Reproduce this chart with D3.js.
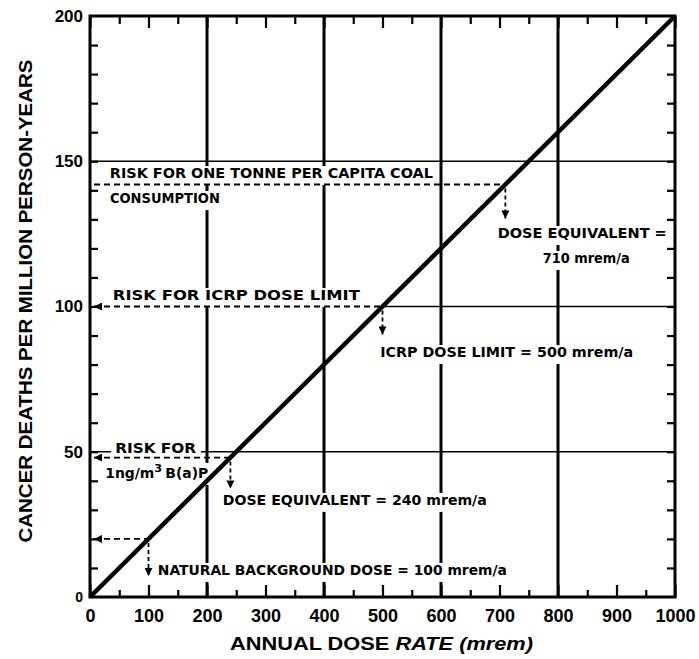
<!DOCTYPE html>
<html>
<head>
<meta charset="utf-8">
<script src="https://cdn.jsdelivr.net/npm/d3@7"></script>
<style>
  body { margin: 0; background: #fff; }
  svg { display: block; }
</style>
</head>
<body>
<div id="chart"></div>
<script>
// Values.
var xTicks = [0, 100, 200, 300, 400, 500, 600, 700, 800, 900, 1000];
var yTicks = [0, 50, 100, 150, 200];
var gridDose = [200, 400, 600, 800];
var gridRisk = [50, 100, 150];
var doseLine = [[0, 0], [1000, 200]];   // mrem/a, deaths per million person-years
var riskDose = [710, 500, 240, 100];
var riskDeaths = [142, 100, 48, 20];

var width = 699, height = 659;

var svg = d3.select('#chart').append('svg')
  .attr('width', width)
  .attr('height', height);

var x = d3.scaleLinear().domain([0, 1000]).range([90, 675]);
var y = d3.scaleLinear().domain([0, 200]).range([597, 16]);

var font = '"Liberation Sans", Arial, sans-serif';
var noteFont = '"DejaVu Sans", sans-serif';

var defs = svg.append('defs');
defs.append('marker')
  .attr('id', 'arrow')
  .attr('viewBox', '0 0 10 10')
  .attr('refX', 10).attr('refY', 5)
  .attr('markerUnits', 'userSpaceOnUse')
  .attr('markerWidth', 9).attr('markerHeight', 8)
  .attr('orient', 'auto-start-reverse')
  .append('path')
  .attr('d', 'M0,0L10,5L0,10z')
  .attr('fill', '#000');

// Horizontal grid lines (start after a dashed risk line at the same level).
svg.append('g').selectAll('line')
  .data(gridRisk)
  .join('line')
  .attr('x1', function(d) {
    var i = riskDeaths.indexOf(d);
    return i >= 0 ? x(riskDose[i]) : x(0);
  })
  .attr('x2', x(1000))
  .attr('y1', function(d) { return y(d); })
  .attr('y2', function(d) { return y(d); })
  .attr('stroke', '#000')
  .attr('stroke-width', 1.6);

// Heavy vertical grid lines.
svg.append('g').selectAll('line')
  .data(gridDose)
  .join('line')
  .attr('x1', function(d) { return x(d); })
  .attr('x2', function(d) { return x(d); })
  .attr('y1', y(200))
  .attr('y2', y(0))
  .attr('stroke', '#000')
  .attr('stroke-width', 3);

// Annotation layout (data units).
var notes = [
  { t: 'RISK FOR ONE TONNE PER CAPITA COAL', x: 34, y: 144.2, w: 323 },
  { t: 'CONSUMPTION', x: 34, y: 135.6, w: 110 },
  { t: 'DOSE EQUIVALENT =', x: 697, y: 123.6, w: 169 },
  { t: '710 mrem/a', x: 774, y: 115, w: 87 },
  { t: 'RISK FOR ICRP DOSE LIMIT', x: 39, y: 102.2, w: 247 },
  { t: 'ICRP DOSE LIMIT = 500 mrem/a', x: 496, y: 82.6, w: 253 },
  { t: 'RISK FOR', x: 43, y: 49.6, w: 81 },
  { parts: ['1ng/m', '3', 'B(a)P'], x: 26, y: 41, w: 103 },
  { t: 'DOSE EQUIVALENT = 240 mrem/a', x: 227, y: 31.7, w: 264 },
  { t: 'NATURAL BACKGROUND DOSE = 100 mrem/a', x: 116, y: 7.6, w: 349 }
];

var bgLayer = svg.append('g');
var dashLayer = svg.append('g');
var lineLayer = svg.append('g');
var axisLayer = svg.append('g');
var textLayer = svg.append('g');

var labels = textLayer.selectAll('text')
  .data(notes)
  .join('text')
  .attr('x', function(d) { return x(d.x); })
  .attr('y', function(d) { return y(d.y); })
  .attr('font-family', noteFont)
  .attr('font-weight', 'bold')
  .attr('font-size', 13.5)
  .attr('textLength', function(d) { return d.w; })
  .attr('lengthAdjust', 'spacingAndGlyphs');

labels.each(function(d) {
  var t = d3.select(this);
  if (d.parts) {
    t.append('tspan').text(d.parts[0]);
    t.append('tspan').attr('dy', -6).attr('font-size', 11).text(d.parts[1]);
    t.append('tspan').attr('dy', 6).attr('dx', 3).text(d.parts[2]);
  } else {
    t.text(d.t);
  }
});

// White boxes behind labels so grid lines break around them.
labels.each(function() {
  var b = this.getBBox();
  bgLayer.append('rect')
    .attr('x', b.x - 4)
    .attr('y', b.y + 1)
    .attr('width', b.width + 8)
    .attr('height', b.height + 3)
    .attr('fill', '#fff');
});

// Dashed read-off lines.
var dropLen = [34, 28, 31, 37];
riskDose.forEach(function(dose, i) {
  var r = riskDeaths[i];
  dashLayer.append('line')
    .attr('x1', x(0) + 4).attr('x2', x(dose))
    .attr('y1', y(r)).attr('y2', y(r))
    .attr('stroke', '#000')
    .attr('stroke-width', 1.8)
    .attr('stroke-dasharray', '6,4')
    .attr('marker-start', i === 0 ? null : 'url(#arrow)');
  dashLayer.append('line')
    .attr('x1', x(dose)).attr('x2', x(dose))
    .attr('y1', y(r) + 4).attr('y2', y(r) + dropLen[i])
    .attr('stroke', '#000')
    .attr('stroke-width', 1.8)
    .attr('stroke-dasharray', '4,3')
    .attr('marker-end', 'url(#arrow)');
});

// Dose-risk line.
lineLayer.append('path')
  .datum(doseLine)
  .attr('d', d3.line()
    .x(function(d) { return x(d[0]); })
    .y(function(d) { return y(d[1]); }))
  .attr('fill', 'none')
  .attr('stroke', '#000')
  .attr('stroke-width', 4.5);

// Frame.
axisLayer.append('rect')
  .attr('x', x(0)).attr('y', y(200))
  .attr('width', x(1000) - x(0))
  .attr('height', y(0) - y(200))
  .attr('fill', 'none')
  .attr('stroke', '#000')
  .attr('stroke-width', 3);

// Inward ticks.
function tickAxis(axis, tx, ty) {
  var g = axisLayer.append('g')
    .attr('transform', 'translate(' + tx + ',' + ty + ')')
    .call(axis);
  g.select('.domain').remove();
  g.selectAll('text').remove();
  g.selectAll('line').attr('stroke-width', 2.2);
}

var major = d3.range(0, 1001, 100);
var minor = d3.range(50, 1000, 100);
var yMinor = d3.range(10, 200, 10);

tickAxis(d3.axisBottom(x).tickValues(major).tickSize(-12), 0, y(0));
tickAxis(d3.axisBottom(x).tickValues(minor).tickSize(-7), 0, y(0));
tickAxis(d3.axisTop(x).tickValues(major).tickSize(-12), 0, y(200));
tickAxis(d3.axisTop(x).tickValues(minor).tickSize(-8), 0, y(200));
tickAxis(d3.axisLeft(y).tickValues(yMinor).tickSize(-8), x(0), 0);
tickAxis(d3.axisRight(y).tickValues(yMinor).tickSize(-8), x(1000), 0);

// Tick labels.
var xLab = axisLayer.append('g')
  .attr('transform', 'translate(0,' + y(0) + ')')
  .call(d3.axisBottom(x).tickValues(xTicks).tickFormat(d3.format('d')).tickSize(0).tickPadding(12));
xLab.select('.domain').remove();
xLab.selectAll('text')
  .attr('font-family', font)
  .attr('font-weight', 'bold')
  .attr('font-size', 18)
  .attr('fill', '#000');

var yLab = axisLayer.append('g')
  .attr('transform', 'translate(' + x(0) + ',0)')
  .call(d3.axisLeft(y).tickValues(yTicks).tickSize(0).tickPadding(7));
yLab.select('.domain').remove();
yLab.selectAll('text')
  .attr('font-family', font)
  .attr('font-weight', 'bold')
  .attr('font-size', function(d) { return d === 0 ? 14 : 17; })
  .attr('fill', '#000');

// Axis titles.
var xTitle = svg.append('text')
  .attr('x', 230)
  .attr('y', 650)
  .attr('font-family', font)
  .attr('font-weight', 'bold')
  .attr('font-size', 19)
  .attr('textLength', 303)
  .attr('lengthAdjust', 'spacingAndGlyphs');
xTitle.append('tspan').text('ANNUAL DOSE ');
xTitle.append('tspan').attr('font-style', 'italic').text('RATE (mrem)');

svg.append('text')
  .attr('transform', 'translate(32,301) rotate(-90)')
  .attr('text-anchor', 'middle')
  .attr('font-family', font)
  .attr('font-weight', 'bold')
  .attr('font-size', 19)
  .attr('textLength', 483)
  .attr('lengthAdjust', 'spacingAndGlyphs')
  .text('CANCER DEATHS PER MILLION PERSON-YEARS');
</script>
</body>
</html>
